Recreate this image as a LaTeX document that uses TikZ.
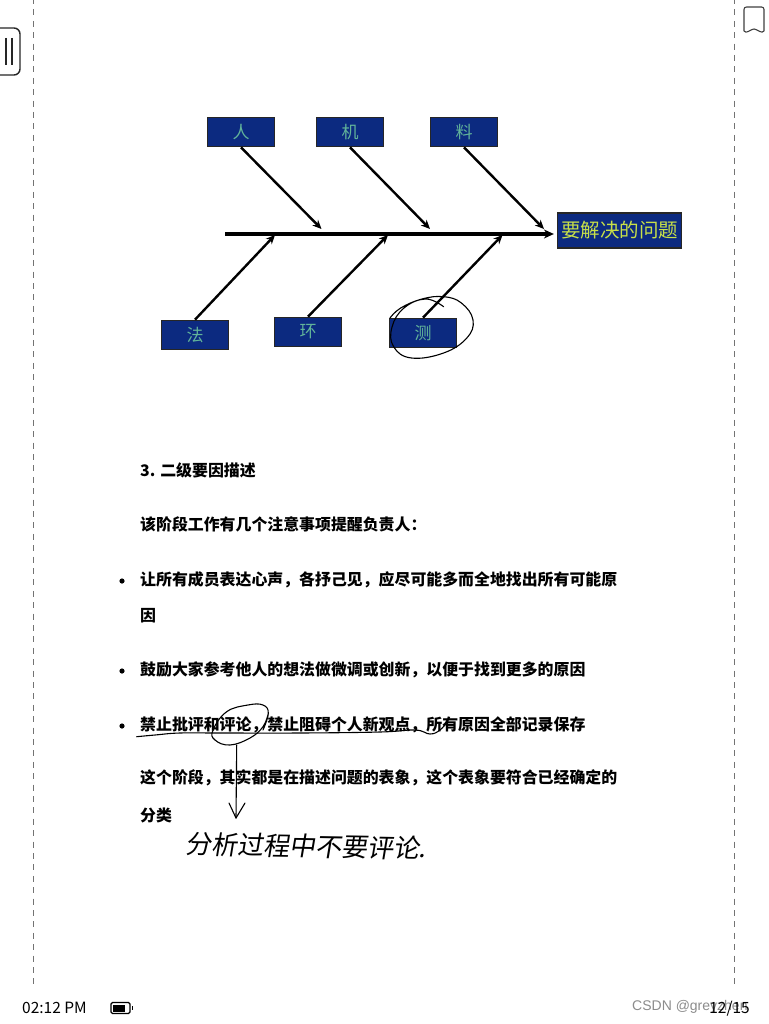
\documentclass[tikz,border=0pt]{standalone}
\usepackage{fontspec}
\usetikzlibrary{arrows.meta}
\setmainfont{Noto Sans CJK SC}
\newfontfamily\handfont[FakeSlant=0.15]{Noto Sans CJK SC}
\newfontfamily\wmfont{Liberation Sans}
\definecolor{boxblue}{HTML}{0C2A80}
\definecolor{labelgreen}{HTML}{62B49A}
\definecolor{goalyellow}{HTML}{C8E048}
\tikzset{
  cause/.style={draw=black!85,line width=1.2pt,fill=boxblue,minimum width=67pt,minimum height=29.5pt,inner sep=0pt,text=labelgreen,font=\fontsize{17}{17}\selectfont},
  goal/.style={draw=black!85,line width=1.2pt,fill=boxblue,minimum width=124pt,minimum height=35pt,inner sep=0pt,text=goalyellow,font=\fontsize{19.5}{20}\selectfont},
  bone/.style={line width=2.4pt,draw=black,-{Stealth[length=9pt,width=8pt]}},
  spine/.style={line width=3pt,draw=black,-{Stealth[length=10pt,width=9pt]}},
  body/.style={anchor=west,inner sep=0pt,font=\fontsize{15.9}{16}\selectfont\bfseries},
  pen/.style={line width=1.1pt,draw=black,line cap=round,line join=round},
  guide/.style={draw=black!55,line width=0.8pt,dash pattern=on 6pt off 5.4pt},
  icon/.style={draw=black!85,line width=1.4pt,line join=round},
  status/.style={inner sep=0pt,font=\fontsize{15.5}{15.5}\selectfont},
}
\begin{document}
\begin{tikzpicture}[x=1pt,y=-1pt]
\useasboundingbox (0,0) rectangle (768,1024);
\fill[white] (0,0) rectangle (768,1024);
% page guides and device icons
\coordinate (gl0) at (33,-2); \coordinate (gl1) at (33,988);
\coordinate (gr0) at (734,-2); \coordinate (gr1) at (734,988);
\draw[guide] (gl0) -- (gl1);
\draw[guide] (gr0) -- (gr1);
\draw[icon,rounded corners=6pt] (-2,28) -- (20,28) -- (20,75) -- (-2,75);
\draw[icon,line width=1.5pt] (6,38) -- (6,65) (12,38) -- (12,65);
\draw[icon,line width=1.1pt,draw=black!75] (744,31) -- (744,9.5) .. controls (744,8) and (745,7) .. (746.5,7) -- (761.5,7) .. controls (763,7) and (764,8) .. (764,9.5) -- (764,31) .. controls (762,34.5) and (757,29) .. (754,29) .. controls (751,29) and (746,34.5) .. (744,31) -- cycle;
% fishbone
\node[cause] (ren)  at (241,132) {人};
\node[cause] (ji)   at (350,132) {机};
\node[cause] (liao) at (464,132) {料};
\node[cause] (fa)   at (195,335) {法};
\node[cause] (huan) at (308,332) {环};
\node[cause] (ce)   at (423,333) {测};
\node[goal]  (goal) at (619.5,230.5) {要解决的问题};
\coordinate (tail) at (225,234);
\coordinate (t1) at (321.5,229);
\coordinate (t2) at (430,229);
\coordinate (t3) at (544,229);
\coordinate (b1) at (275,235);
\coordinate (b2) at (388,235);
\coordinate (b3) at (502.5,235);
\draw[spine] (tail) -- ([xshift=-3pt]goal.west |- tail);
\draw[bone] (ren.south) -- (t1);
\draw[bone] (ji.south) -- (t2);
\draw[bone] (liao.south) -- (t3);
\draw[bone] (fa.north) -- (b1);
\draw[bone] (huan.north) -- (b2);
\draw[bone] (ce.north) -- (b3);
% ink circle round the last cause
\draw[pen] plot[smooth,tension=0.7] coordinates {(443.6,306.7) (425.7,299) (404,308) (392,327) (393.6,346.7) (411.4,358) (443.6,353) (466.8,338) (473,320) (461.4,303) (443.6,296.7) (422,299) (400.7,308) (390,318)};
% body text
\node[body] (h3) at (140,470.5) {3. 二级要因描述};
\node[body] (p1) at (140,524.5) {该阶段工作有几个注意事项提醒负责人：};
\node[body] (l1) at (140,580) {让所有成员表达心声，各抒己见，应尽可能多而全地找出所有可能原};
\node[body] (l1b) at (140,616) {因};
\node[body] (l2) at (140,670) {鼓励大家参考他人的想法做微调或创新，以便于找到更多的原因};
\node[body] (l3) at (140,725) {禁止批评和评论，禁止阻碍个人新观点，所有原因全部记录保存};
\node[body] (p2) at (140,778) {这个阶段，其实都是在描述问题的表象，这个表象要符合已经确定的};
\node[body] (p2b) at (140,815) {分类};
\fill (122,581) circle (2.6pt) (122,671) circle (2.6pt) (122,726) circle (2.6pt);
% ink notes
\draw[pen] plot[smooth,tension=0.7] coordinates {(136.7,736.7) (155,735) (180,733) (220,733) (300,733) (380,732) (415,730) (430,734) (440,730) (447,722)};
\draw[pen] plot[smooth,tension=0.7] coordinates {(263,730) (268.3,713.3) (263,705) (248,705) (226.7,711.7) (213,730) (215,740) (230,745) (250,738) (263,726.7) (268.3,713.3)};
\draw[pen] (236.7,745) -- (236,818);
\draw[pen] (229,803) -- (236,818) -- (245,803);
\node[inner sep=0pt,anchor=west,rotate=-1] (note) at (185,844) {\handfont\fontsize{26}{26}\selectfont 分析过程中不要评论.};
% status bar
\node[status,anchor=west] (time) at (22,1008) {02:12 PM};
\draw[line width=1.2pt,draw=black,rounded corners=1.5pt] (111,1002.5) rectangle (130,1013.5);
\fill[black] (113,1004.5) rectangle (125,1011.5);
\fill[black] (131.5,1006) rectangle (132.5,1010);
\node[anchor=west,inner sep=0pt,text=black!45,font=\wmfont\fontsize{14}{14}\selectfont] (wm) at (632,1007) {CSDN @greyzhen};
\node[status,anchor=east] (page) at (750,1009) {12/15};
\end{tikzpicture}
\end{document}
